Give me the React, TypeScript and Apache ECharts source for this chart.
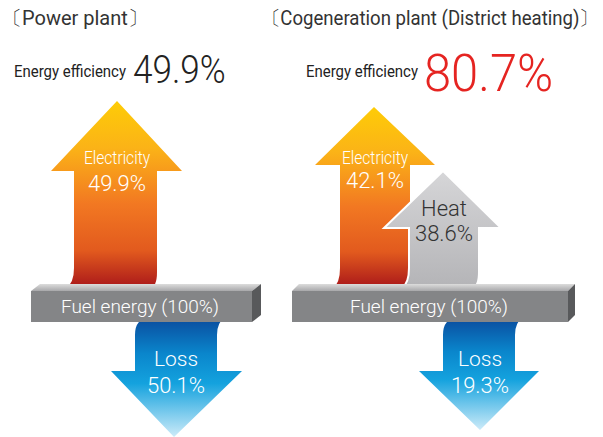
import React, { useEffect, useRef } from "react";
import * as echarts from "echarts";

// ---- data ----
const panelTitles = ["〔Power plant〕", "〔Cogeneration plant (District heating)〕"];
const efficiencyLabel = "Energy efficiency";
const efficiencies = [49.9, 80.7];
const fuelLabel = "Fuel energy (100%)";
const powerFlows = ["Electricity", "Loss"];
const powerValues = [49.9, 50.1];
const cogenFlows = ["Electricity", "Heat", "Loss"];
const cogenValues = [42.1, 38.6, 19.3];

// ---- shapes ----
const shapes: Record<string, string> = {
  elecL:
    "M117,101 L182,171 L157,171 L157,272 Q157,287 150,288 L66,288 Q74,283 74,268 L74,171 L51,171 Z",
  elecR:
    "M374,107 L435,165 L410,165 L410,272 Q410,287 403,288 L333,288 Q340,283 340,268 L340,165 L315,165 Z",
  heatR:
    "M443,171 L501,228 L479,228 L479,272 Q479,287 472,288 L402,288 Q409,283 409,268 L409,228 L384,228 Z",
  lossL:
    "M135,335 Q135,318 150,318 L225,318 Q217,322 217,335 L217,371 L242,371 L174,437 L111,371 L135,371 Z",
  lossR:
    "M443,335 Q443,318 458,318 L523,318 Q515,322 515,335 L515,371 L539,371 L480,430 L419,371 L443,371 Z",
};
Object.keys(shapes).forEach((k) => {
  echarts.graphic.registerShape("s_" + k, echarts.graphic.extendPath(shapes[k], {}) as any);
});

const G = echarts.graphic.LinearGradient;
const elecGrad = () =>
  new G(0, 0, 0, 1, [
    { offset: 0, color: "#fecc07" },
    { offset: 0.25, color: "#fbb317" },
    { offset: 0.55, color: "#f27822" },
    { offset: 0.8, color: "#e25a1e" },
    { offset: 1, color: "#a9171a" },
  ]);
const heatGrad = () =>
  new G(0, 0, 0, 1, [
    { offset: 0, color: "#d6d6d8" },
    { offset: 1, color: "#b4b4b7" },
  ]);
const lossGrad = () =>
  new G(0, 0, 0, 1, [
    { offset: 0, color: "#0a4c9e" },
    { offset: 0.3, color: "#0a86cc" },
    { offset: 0.55, color: "#14a2de" },
    { offset: 1, color: "#cdebf9" },
  ]);

const FONT = "Roboto, 'Noto Sans', sans-serif";

function txt(
  text: string,
  x: number,
  y: number,
  size: number,
  fill: string,
  align = "center",
  sx = 1,
  weight: any = 400
) {
  return {
    type: "text",
    z: 50,
    x,
    y,
    scaleX: sx,
    style: {
      text,
      x: 0,
      y: 0,
      fill,
      fontSize: size,
      fontFamily: FONT,
      fontWeight: weight,
      textAlign: align,
      textVerticalAlign: "middle",
    },
  };
}

function bar(x0: number, x1: number, off: number, cx: number) {
  const top = 291, bot = 322;
  return [
    {
      type: "polygon",
      z: 20,
      shape: { points: [[x0, top], [x0 + off, top - 7], [x1 + off, top - 7], [x1, top]] },
      style: { fill: new G(0, 0, 0, 1, [{ offset: 0, color: "#dcdcdc" }, { offset: 1, color: "#a8a8aa" }]) },
    },
    {
      type: "polygon",
      z: 20,
      shape: { points: [[x1, top], [x1 + off, top - 7], [x1 + off, bot - 7], [x1, bot]] },
      style: { fill: "#58595b" },
    },
    {
      type: "rect",
      z: 21,
      shape: { x: x0, y: top, width: x1 - x0, height: bot - top },
      style: { fill: "#848587" },
    },
    txt(fuelLabel, cx, 306, 19, "#ffffff", "center", 1, 300),
  ];
}

export default function App() {
  const ref = useRef<HTMLDivElement>(null);
  useEffect(() => {
    if (!ref.current) return;
    const chart = echarts.init(ref.current, null, { renderer: "svg" });
    const pct = (v: number) => v.toFixed(1) + "%";
    const elements: any[] = [
      // titles
      txt(panelTitles[0], 2, 18, 20, "#333333", "left", 1, 400),
      txt(panelTitles[1], 262, 18, 20, "#333333", "left", 0.93, 400),
      txt(efficiencyLabel, 14, 71, 17, "#222222", "left", 0.88, 400),
      txt(pct(efficiencies[0]), 133, 70, 39, "#222222", "left", 0.9, 300),
      txt(efficiencyLabel, 306, 71, 17, "#222222", "left", 0.88, 400),
      txt(pct(efficiencies[1]), 424, 73, 52, "#e52421", "left", 0.94, 300),
      // arrows
      { type: "s_elecL", z: 10, style: { fill: elecGrad() } },
      { type: "s_lossL", z: 10, style: { fill: lossGrad() } },
      { type: "s_elecR", z: 10, style: { fill: elecGrad() } },
      { type: "s_heatR", z: 11, style: { fill: heatGrad(), stroke: "#ffffff", lineWidth: 2 } },
      { type: "s_lossR", z: 10, style: { fill: lossGrad() } },
      // arrow labels
      txt(powerFlows[0], 117, 157, 19, "#ffffff", "center", 0.82, 300),
      txt(pct(powerValues[0]), 117, 183, 22, "#ffffff", "center", 1, 300),
      txt(powerFlows[1], 176, 359, 21, "#ffffff", "center", 1, 300),
      txt(pct(powerValues[1]), 176, 385, 22, "#ffffff", "center", 1, 300),
      txt(cogenFlows[0], 375, 157, 19, "#ffffff", "center", 0.82, 300),
      txt(pct(cogenValues[0]), 375, 180, 22, "#ffffff", "center", 1, 300),
      txt(cogenFlows[1], 444, 208, 22, "#333333", "center", 1, 300),
      txt(pct(cogenValues[1]), 444, 233, 22, "#333333", "center", 1, 300),
      txt(cogenFlows[2], 480, 359, 21, "#ffffff", "center", 1, 300),
      txt(pct(cogenValues[2]), 480, 385, 22, "#ffffff", "center", 1, 300),
      ...bar(31, 252, 9, 140),
      ...bar(292, 568, 7, 429),
    ];
    chart.setOption({
      animation: false,
      backgroundColor: "#ffffff",
      graphic: { elements },
    });
    return () => chart.dispose();
  }, []);
  return (
    <div
      ref={ref}
      style={{ position: "fixed", left: 0, top: 0, width: 603, height: 437 }}
    />
  );
}
